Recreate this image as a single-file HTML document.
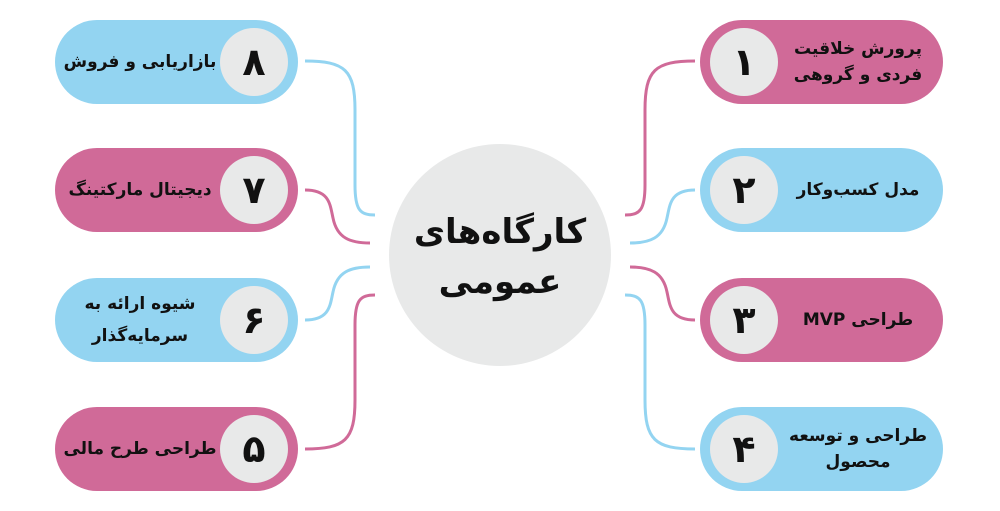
<!DOCTYPE html>
<html><head><meta charset="utf-8"><style>
body{margin:0;background:#fff;width:1000px;height:511px;overflow:hidden;position:relative;font-family:"DejaVu Sans",sans-serif}
.p{position:absolute;width:243px;height:84px;border-radius:42px}
.pk{background:#d06a98}.bl{background:#93d4f1}
.c{position:absolute;top:8px;width:68px;height:68px;border-radius:50%;background:#e8e9e9;font-weight:bold;font-size:38px;line-height:68px;text-align:center;color:#111}
.t{position:absolute;top:0;height:84px;display:flex;align-items:center;justify-content:center;text-align:center;direction:rtl;font-weight:bold;font-size:17px;line-height:26px;color:#111;width:160px;white-space:nowrap}
.R .c{left:10px}.R .t{left:78px}
.L .c{right:10px}.L .t{left:5px}
</style></head><body>
<svg width="1000" height="511" style="position:absolute;left:0;top:0" fill="none" stroke-width="3">
<path d="M695 61 C655 61 645 70 645 110 L645 185 C645 210 640 215 625 215" stroke="#d06a98"/>
<path d="M695 190 C670 190 670 205 667 218 C663 238 650 243 630 243" stroke="#93d4f1"/>
<path d="M695 320 C670 320 670 305 667 292 C663 272 650 267 630 267" stroke="#d06a98"/>
<path d="M695 449 C655 449 645 440 645 400 L645 325 C645 300 640 295 625 295" stroke="#93d4f1"/>
<path d="M305 61 C345 61 355 70 355 110 L355 185 C355 210 360 215 375 215" stroke="#93d4f1"/>
<path d="M305 190 C330 190 330 205 333 218 C337 238 350 243 370 243" stroke="#d06a98"/>
<path d="M305 320 C330 320 330 305 333 292 C337 272 350 267 370 267" stroke="#93d4f1"/>
<path d="M305 449 C345 449 355 440 355 400 L355 325 C355 300 360 295 375 295" stroke="#d06a98"/>
<circle cx="500" cy="255" r="111" fill="#e8e9e9" stroke="none"/>
<text x="500" y="243" text-anchor="middle" font-family="DejaVu Sans" font-weight="bold" font-size="34" fill="#111" direction="rtl">کارگاه‌های</text>
<text x="500" y="293" text-anchor="middle" font-family="DejaVu Sans" font-weight="bold" font-size="34" fill="#111" direction="rtl">عمومی</text>
</svg>
<div class="p pk R" style="left:700px;top:20px"><div class="c">۱</div><div class="t">پرورش خلاقیت<br>فردی و گروهی</div></div>
<div class="p bl R" style="left:700px;top:148px"><div class="c">۲</div><div class="t">مدل کسب‌وکار</div></div>
<div class="p pk R" style="left:700px;top:278px"><div class="c">۳</div><div class="t">طراحی MVP</div></div>
<div class="p bl R" style="left:700px;top:407px"><div class="c">۴</div><div class="t">طراحی و توسعه<br>محصول</div></div>
<div class="p bl L" style="left:55px;top:20px"><div class="c">۸</div><div class="t">بازاریابی و فروش</div></div>
<div class="p pk L" style="left:55px;top:148px"><div class="c">۷</div><div class="t">دیجیتال مارکتینگ</div></div>
<div class="p bl L" style="left:55px;top:278px"><div class="c">۶</div><div class="t" style="line-height:32px">شیوه ارائه به<br>سرمایه‌گذار</div></div>
<div class="p pk L" style="left:55px;top:407px"><div class="c">۵</div><div class="t">طراحی طرح مالی</div></div>
</body></html>
